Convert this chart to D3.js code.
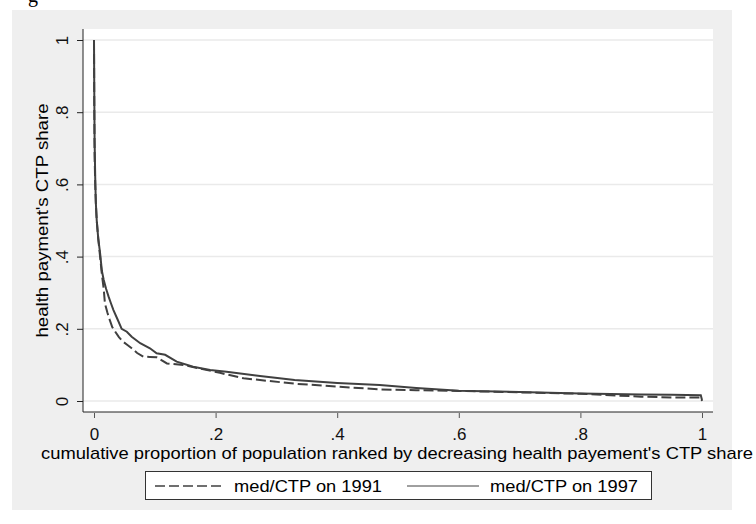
<!DOCTYPE html>
<html>
<head>
<meta charset="utf-8">
<script src="https://cdn.jsdelivr.net/npm/d3@7"></script>
<style>
  body { margin: 0; background: #fff; }
  svg { display: block; font-family: "Liberation Sans", Arial, Helvetica, sans-serif; }
</style>
</head>
<body>
<svg id="chart"></svg>
<script>
const width = 756;
const height = 524;

// cumulative proportion of population (x) and CTP share (y)
const x1991 = [0, 0.0005, 0.001, 0.002, 0.003, 0.0045, 0.007, 0.010, 0.013, 0.016, 0.018, 0.022, 0.026, 0.030, 0.035, 0.041, 0.048, 0.055, 0.062, 0.071, 0.081, 0.092, 0.103, 0.12, 0.147, 0.174, 0.207, 0.246, 0.273, 0.33, 0.40, 0.47, 0.53, 0.60, 0.70, 0.80, 0.90, 0.95, 0.998, 1.0];
const y1991 = [1.0, 0.8, 0.68, 0.6, 0.55, 0.50, 0.45, 0.40, 0.35, 0.31, 0.27, 0.245, 0.224, 0.205, 0.192, 0.177, 0.164, 0.155, 0.146, 0.133, 0.123, 0.122, 0.121, 0.104, 0.0997, 0.090, 0.078, 0.063, 0.058, 0.048, 0.040, 0.032, 0.030, 0.028, 0.024, 0.020, 0.012, 0.010, 0.010, 0.000];
const x1997 = [0, 0.0005, 0.001, 0.002, 0.003, 0.0045, 0.007, 0.010, 0.013, 0.016, 0.020, 0.024, 0.028, 0.032, 0.039, 0.0455, 0.054, 0.062, 0.076, 0.092, 0.103, 0.117, 0.136, 0.163, 0.191, 0.218, 0.273, 0.33, 0.40, 0.47, 0.53, 0.60, 0.70, 0.80, 0.90, 0.95, 0.998, 1.0];
const y1997 = [1.0, 0.85, 0.72, 0.62, 0.55, 0.50, 0.45, 0.41, 0.36, 0.335, 0.31, 0.289, 0.27, 0.252, 0.225, 0.200, 0.192, 0.178, 0.160, 0.146, 0.132, 0.128, 0.109, 0.095, 0.086, 0.081, 0.069, 0.058, 0.050, 0.044, 0.036, 0.0285, 0.025, 0.021, 0.018, 0.017, 0.016, 0.003];

const xTicks = [0, 0.2, 0.4, 0.6, 0.8, 1];
const yTicks = [0, 0.2, 0.4, 0.6, 0.8, 1];
const seriesNames = ["med/CTP on 1991", "med/CTP on 1997"];
const xTitle = "cumulative proportion of population ranked by decreasing health payement's CTP share";
const yTitle = "health payment's CTP share";

const lineColor = "#404040";
const fmt = d => d === 0 ? "0" : d === 1 ? "1" : d3.format(".1f")(d).replace(/^0/, "");

const plot = { left: 83, right: 713, top: 29, bottom: 412 };

const x = d3.scaleLinear().domain([0, 1]).range([94, 702]);
const y = d3.scaleLinear().domain([0, 1]).range([401, 40]);

const svg = d3.select("#chart")
    .attr("width", width)
    .attr("height", height);

// fragment of the caption above the graph
svg.append("text")
    .attr("x", 28)
    .attr("y", 2)
    .attr("font-size", 20)
    .attr("font-family", "Liberation Serif, serif")
    .attr("fill", "#000")
    .text("g");

// outer grey frame
svg.append("rect")
    .attr("x", 12).attr("y", 10)
    .attr("width", 720).attr("height", 500)
    .attr("fill", "#efefef");

// plot region
svg.append("rect")
    .attr("x", plot.left).attr("y", plot.top)
    .attr("width", plot.right - plot.left).attr("height", plot.bottom - plot.top)
    .attr("fill", "#fff");

// horizontal grid
svg.append("g").selectAll("line").data(yTicks).enter()
    .append("line")
    .attr("x1", plot.left).attr("x2", plot.right)
    .attr("y1", d => y(d)).attr("y2", d => y(d))
    .attr("stroke", "#eaeaea")
    .attr("stroke-width", 1.5);

// axes
const yAxis = svg.append("g")
    .attr("transform", "translate(" + plot.left + ",0)")
    .call(d3.axisLeft(y).tickValues(yTicks).tickFormat(fmt).tickSize(6).tickSizeOuter(0));
yAxis.select(".domain").remove();
yAxis.selectAll(".tick line").attr("stroke", "#222");
yAxis.selectAll(".tick text")
    .attr("x", 0).attr("dy", 0)
    .attr("text-anchor", "middle")
    .attr("transform", "translate(-15,0) rotate(-90)")
    .attr("font-size", 17)
    .attr("fill", "#111");

const xAxis = svg.append("g")
    .attr("transform", "translate(0," + plot.bottom + ")")
    .call(d3.axisBottom(x).tickValues(xTicks).tickFormat(fmt).tickSize(6).tickSizeOuter(0));
xAxis.select(".domain").remove();
xAxis.selectAll(".tick line").attr("stroke", "#555").attr("y1", 1);
xAxis.selectAll(".tick text")
    .attr("y", 28).attr("dy", 0)
    .attr("font-size", 17)
    .attr("fill", "#111");

svg.append("line")
    .attr("x1", plot.left).attr("x2", plot.left)
    .attr("y1", plot.top).attr("y2", plot.bottom)
    .attr("stroke", "#222");
svg.append("line")
    .attr("x1", plot.left).attr("x2", plot.right)
    .attr("y1", plot.bottom).attr("y2", plot.bottom)
    .attr("stroke", "#222");

// curves
const line = d3.line().x(d => x(d[0])).y(d => y(d[1]));

svg.append("path")
    .datum(d3.zip(x1991, y1991))
    .attr("d", line)
    .attr("fill", "none")
    .attr("stroke", lineColor)
    .attr("stroke-width", 2)
    .attr("stroke-dasharray", "10,4");

svg.append("path")
    .datum(d3.zip(x1997, y1997))
    .attr("d", line)
    .attr("fill", "none")
    .attr("stroke", lineColor)
    .attr("stroke-width", 2);

// axis titles
svg.append("text")
    .attr("x", 41)
    .attr("y", 459)
    .attr("font-size", 17)
    .attr("textLength", 712)
    .attr("lengthAdjust", "spacingAndGlyphs")
    .attr("fill", "#000")
    .text(xTitle);

svg.append("text")
    .attr("transform", "translate(48," + ((plot.top + plot.bottom) / 2) + ") rotate(-90)")
    .attr("text-anchor", "middle")
    .attr("font-size", 17)
    .attr("textLength", 234)
    .attr("lengthAdjust", "spacingAndGlyphs")
    .attr("fill", "#000")
    .text(yTitle);

// legend
const legend = svg.append("g");
legend.append("rect")
    .attr("x", 145.5).attr("y", 471.5)
    .attr("width", 506).attr("height", 28)
    .attr("fill", "#fff")
    .attr("stroke", "#333");

const legendItems = [
    { name: seriesNames[0], x0: 155, x1: 223, tx: 234, dash: "10,4", w: 1.5 },
    { name: seriesNames[1], x0: 407, x1: 479, tx: 490, dash: null, w: 1 }
];

legend.selectAll("line.key").data(legendItems).enter()
    .append("line")
    .attr("class", "key")
    .attr("x1", d => d.x0).attr("x2", d => d.x1)
    .attr("y1", 486).attr("y2", 486)
    .attr("stroke", lineColor)
    .attr("stroke-width", d => d.w)
    .attr("stroke-dasharray", d => d.dash);

legend.selectAll("text").data(legendItems).enter()
    .append("text")
    .attr("x", d => d.tx)
    .attr("y", 492)
    .attr("font-size", 17)
    .attr("textLength", 148)
    .attr("lengthAdjust", "spacingAndGlyphs")
    .attr("fill", "#000")
    .text(d => d.name);
</script>
</body>
</html>
